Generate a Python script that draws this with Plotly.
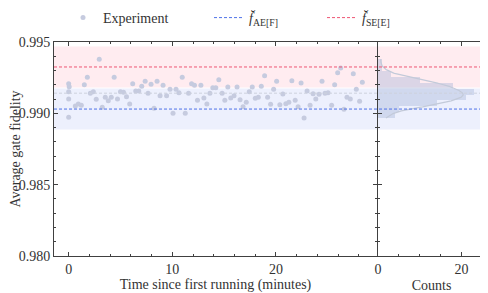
import numpy as np
import plotly.graph_objects as go

# ---- data ----
time_min = [0.0, 0.05, 0.0, 0.0, 0.0,
            0.64, 0.93, 1.22, 1.51, 1.80, 2.09, 2.38, 2.66, 2.95, 3.24,
            3.53, 3.82, 4.11, 4.39, 4.71, 5.00, 5.29, 5.58, 5.89, 6.18,
            6.47, 6.76, 7.05, 7.38, 7.66, 7.95, 8.24, 8.53, 8.82, 9.11,
            9.45, 9.78, 10.07, 10.36, 10.64, 10.96, 11.25, 11.57, 11.86, 12.14,
            12.43, 12.76, 13.05, 13.34, 13.63, 13.91, 14.20, 14.49, 14.81, 15.07,
            15.36, 15.64, 15.96, 16.25, 16.54, 16.83, 17.14, 17.43, 17.72, 18.01,
            18.30, 18.59, 18.91, 19.20, 19.49, 19.78, 20.07, 20.38, 20.67, 20.96,
            21.25, 21.54, 21.86, 22.14, 22.43, 22.72, 23.01, 23.30, 23.59, 23.85,
            24.16, 24.45, 24.74, 25.03, 25.38, 25.67, 25.96, 26.25, 26.57, 26.86,
            27.18, 27.47, 27.76, 28.08, 28.34]
fidelity = [0.99208, 0.99187, 0.99152, 0.99100, 0.98972,
            0.99051, 0.99065, 0.99056, 0.99201, 0.99253, 0.99140, 0.99152, 0.99098, 0.99379, 0.99042,
            0.99112, 0.99089, 0.99112, 0.99253, 0.99100, 0.99152, 0.99147, 0.99117, 0.99065, 0.99208,
            0.99157, 0.99157, 0.99189, 0.99225, 0.99140, 0.99203, 0.99035, 0.99225, 0.99124, 0.99196,
            0.99124, 0.99168, 0.99000, 0.99168, 0.99145, 0.99253, 0.99000, 0.99140, 0.99208, 0.99196,
            0.99091, 0.99196, 0.99107, 0.99065, 0.99140, 0.99180, 0.99180, 0.99236, 0.99140, 0.99091,
            0.99185, 0.99107, 0.99124, 0.99185, 0.99096, 0.99046, 0.99077, 0.99152, 0.99185, 0.99105,
            0.99112, 0.99189, 0.99264, 0.99112, 0.99063, 0.99168, 0.99225, 0.99060, 0.99135, 0.99067,
            0.99077, 0.99229, 0.99091, 0.99046, 0.99213, 0.98967, 0.99157, 0.99056, 0.99138, 0.99100,
            0.99133, 0.99225, 0.99140, 0.99145, 0.99056, 0.99201, 0.99285, 0.99318, 0.99028, 0.99112,
            0.99100, 0.99278, 0.99168, 0.99084, 0.99217]

f_AE = 0.9903      # predicted fidelity, AE[F]
f_SE = 0.99325     # predicted fidelity, SE[E]
f_err = 0.00144    # uncertainty band half-width
n_bins = 10

y_range = [0.980, 0.995]
x_ticks = [0, 10, 20]
y_ticks = [0.980, 0.985, 0.990, 0.995]
y_ticklabels = ["0.980", "0.985", "0.990", "0.995"]
hist_ticks = [0, 20]

# ---- derived ----
t = np.array(time_min)
f = np.array(fidelity)
span = t.max() - t.min()
x_range = [t.min() - 0.05 * span, t.max() + 0.05 * span]

counts, edges = np.histogram(f, bins=n_bins)
centers = 0.5 * (edges[:-1] + edges[1:])
bw_bin = edges[1] - edges[0]

bw = f.std(ddof=1) * len(f) ** (-1 / 5)
grid = np.linspace(f.min(), f.max(), 200)
kde = np.exp(-0.5 * ((grid[:, None] - f[None, :]) / bw) ** 2).sum(1) / (bw * np.sqrt(2 * np.pi))
kde_counts = kde * bw_bin

mean_f = f.mean()

FONT = "Liberation Serif, DejaVu Serif, serif"
AX = "#404040"
C_BLUE = "#4f72e8"
C_RED = "#ee5573"
C_EXP = "#c6cbdf"
DASH = "3px,2px"
FS = 14

fig = go.Figure()

fig.add_trace(go.Scatter(x=t, y=f, mode="markers", name="Experiment",
                         marker=dict(size=5, color=C_EXP, line=dict(width=0)),
                         xaxis="x", yaxis="y", legend="legend"))
fig.add_trace(go.Scatter(x=[None], y=[None], mode="lines",
                         name="<i>f̆</i><sub>AE[F]</sub>",
                         line=dict(color=C_BLUE, width=1, dash=DASH), legend="legend2"))
fig.add_trace(go.Scatter(x=[None], y=[None], mode="lines",
                         name="<i>f̆</i><sub>SE[E]</sub>",
                         line=dict(color=C_RED, width=1, dash=DASH), legend="legend3"))

fig.add_trace(go.Bar(y=centers, x=counts, orientation="h", width=bw_bin,
                     marker=dict(color="rgba(160,176,212,0.38)", line=dict(width=0)),
                     showlegend=False, xaxis="x2", yaxis="y2"))
fig.add_trace(go.Scatter(x=kde_counts, y=grid, mode="lines",
                         line=dict(color="#c3cad9", width=1.2),
                         showlegend=False, xaxis="x2", yaxis="y2"))

shapes = [
    dict(type="rect", xref="paper", yref="y", x0=0, x1=1,
         y0=f_SE - f_err, y1=f_SE + f_err, fillcolor="#ffecf0",
         line=dict(width=0), layer="below"),
    dict(type="rect", xref="paper", yref="y", x0=0, x1=1,
         y0=f_AE - f_err, y1=f_AE + f_err, fillcolor="#edf0fd",
         line=dict(width=0), layer="below"),
    dict(type="line", xref="paper", yref="y", x0=0, x1=1, y0=mean_f, y1=mean_f,
         line=dict(color="#cdd1dc", width=1, dash=DASH)),
    dict(type="line", xref="paper", yref="y", x0=0, x1=1, y0=f_AE, y1=f_AE,
         line=dict(color=C_BLUE, width=1, dash=DASH)),
    dict(type="line", xref="paper", yref="y", x0=0, x1=1, y0=f_SE, y1=f_SE,
         line=dict(color=C_RED, width=1, dash=DASH)),
]

# the page body has an 8px margin, so the figure is drawn 8px in from the corner
W, H = 480, 285
ML, MR, MT, MB = 46, 3, 34, 37
PW = W - ML - MR
split = (369 - ML) / PW

axis_common = dict(showline=True, linecolor=AX, linewidth=1, ticks="inside",
                   tickcolor=AX, ticklen=4, tickwidth=1, mirror="allticks",
                   showgrid=False, zeroline=False, automargin=False,
                   tickfont=dict(family=FONT, size=FS, color="#333"))

leg_common = dict(orientation="h", xref="container", yref="container",
                  xanchor="left", yanchor="middle", y=1 - 10 / H,
                  font=dict(family=FONT, size=FS, color="#333"),
                  bgcolor="rgba(0,0,0,0)", borderwidth=0)

fig.update_layout(
    width=W, height=H,
    margin=dict(l=ML, r=MR, t=MT, b=MB),
    paper_bgcolor="white", plot_bgcolor="white",
    font=dict(family=FONT, size=FS, color="#333"),
    shapes=shapes,
    bargap=0,
    legend=dict(x=55 / W, **leg_common),
    legend2=dict(x=201 / W, **leg_common),
    legend3=dict(x=314 / W, **leg_common),
    xaxis=dict(domain=[0, split], range=x_range, tickvals=x_ticks,
               minor=dict(dtick=2, ticks="inside", ticklen=2, tickcolor=AX),
               title=dict(text="Time since first running (minutes)", standoff=4,
                          font=dict(family=FONT, size=FS)),
               anchor="y", **axis_common),
    yaxis=dict(range=y_range, tickvals=y_ticks, ticktext=y_ticklabels,
               minor=dict(dtick=0.001, ticks="inside", ticklen=2, tickcolor=AX),
               title=dict(text="Average gate fidelity", standoff=1,
                          font=dict(family=FONT, size=FS)),
               anchor="x", **axis_common),
    xaxis2=dict(domain=[split + 1 / PW, 1], range=[0, 25.6], tickvals=hist_ticks,
                minor=dict(dtick=5, ticks="inside", ticklen=2, tickcolor=AX),
                title=dict(text="Counts", standoff=4, font=dict(family=FONT, size=FS)),
                anchor="y2", **axis_common),
    yaxis2=dict(range=y_range, tickvals=y_ticks, showticklabels=False,
                minor=dict(dtick=0.001, ticks="inside", ticklen=2, tickcolor=AX),
                anchor="x2", matches="y", **axis_common),
)

fig.write_html("out.html")
